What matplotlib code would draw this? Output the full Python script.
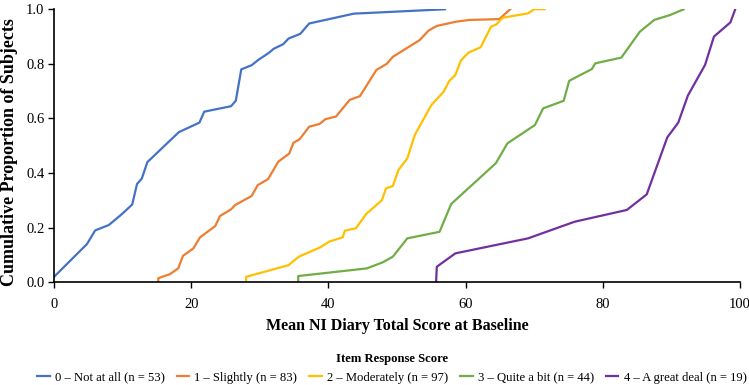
import matplotlib
matplotlib.use("Agg")
import matplotlib.pyplot as plt

plt.rcParams["font.family"] = ["Liberation Serif", "DejaVu Serif"]

# Curvas acumuladas (puntuacion media, proporcion acumulada)
score0_x = [0, 4.8, 6.0, 8.0, 9.9, 11.4, 12.1, 12.8, 13.6, 18.2, 21.2, 21.9, 25.8, 26.5,
            27.3, 28.8, 29.8, 31.3, 32.0, 33.4, 34.2, 35.9, 37.2, 43.7, 57.0]
score0_y = [0.02, 0.14, 0.19, 0.21, 0.25, 0.285, 0.36, 0.38, 0.44, 0.55, 0.585, 0.625, 0.645, 0.665,
            0.78, 0.795, 0.815, 0.84, 0.855, 0.872, 0.893, 0.91, 0.948, 0.984, 1.0]

score1_x = [15.2, 15.2, 16.9, 18.1, 18.8, 20.3, 21.3, 23.5, 24.2, 25.8, 26.4, 28.8, 29.7, 31.2,
            32.7, 34.3, 34.9, 35.8, 37.2, 38.7, 39.6, 41.1, 43.1, 44.6, 47.0, 48.5, 49.4,
            53.3, 54.6, 55.8, 58.7, 60.6, 64.9, 66.5]
score1_y = [0.002, 0.015, 0.03, 0.051, 0.097, 0.124, 0.165, 0.206, 0.243, 0.267, 0.283, 0.316, 0.356, 0.378,
            0.442, 0.472, 0.511, 0.524, 0.570, 0.580, 0.598, 0.607, 0.668, 0.682, 0.778, 0.80, 0.826,
            0.887, 0.922, 0.939, 0.955, 0.961, 0.964, 1.0]

score2_x = [28.0, 28.0, 34.2, 35.7, 38.8, 40.1, 42.1, 42.4, 44.0, 45.5, 47.8, 48.4, 49.4, 50.2,
            51.5, 52.6, 55.0, 56.8, 57.6, 58.5, 59.3, 60.4, 62.2, 63.7, 64.5, 65.4, 69.1, 70.0, 71.5]
score2_y = [0.002, 0.02, 0.063, 0.094, 0.128, 0.149, 0.165, 0.189, 0.198, 0.25, 0.301, 0.344, 0.353, 0.411,
            0.454, 0.54, 0.649, 0.698, 0.737, 0.759, 0.812, 0.841, 0.861, 0.936, 0.945, 0.969, 0.985, 1.0, 1.0]

score3_x = [35.6, 35.6, 45.6, 47.9, 49.4, 51.5, 56.2, 57.9, 64.4, 66.1, 70.1, 71.3, 74.3, 75.1,
            78.4, 78.9, 82.7, 85.4, 87.5, 89.8, 91.8]
score3_y = [0.0, 0.023, 0.051, 0.073, 0.094, 0.161, 0.185, 0.287, 0.436, 0.509, 0.576, 0.637, 0.665, 0.738,
            0.781, 0.802, 0.823, 0.918, 0.961, 0.979, 1.0]

score4_x = [55.7, 55.8, 58.5, 69.1, 75.9, 83.5, 86.4, 89.4, 91.0, 92.4, 94.9, 96.2, 98.6, 99.3]
score4_y = [0.002, 0.057, 0.106, 0.161, 0.222, 0.265, 0.322, 0.531, 0.585, 0.684, 0.796, 0.90, 0.952, 1.0]

labels = ["0 \u2013 Not at all (n = 53)", "1 \u2013 Slightly (n = 83)", "2 \u2013 Moderately (n = 97)",
          "3 \u2013 Quite a bit (n = 44)", "4 \u2013 A great deal (n = 19)"]
colors = ["#4472C4", "#ED7D31", "#FFC000", "#70AD47", "#7030A0"]

series = [(score0_x, score0_y), (score1_x, score1_y), (score2_x, score2_y),
          (score3_x, score3_y), (score4_x, score4_y)]

fig = plt.figure(figsize=(7.49, 3.85), dpi=100)
ax = fig.add_axes([0.0721, 0.2667, 0.9159, 0.7092])

for (xs, ys), lab, col in zip(series, labels, colors):
    ax.plot(xs, ys, color=col, linewidth=1.6, label=lab)

ax.set_xlim(0, 100)
ax.set_ylim(0, 1.0)
ax.set_xticks([0, 20, 40, 60, 80, 100])
ax.set_yticks([0.0, 0.2, 0.4, 0.6, 0.8, 1.0])
ax.set_yticklabels(["0.0", "0.2", "0.4", "0.6", "0.8", "1.0"])
ax.tick_params(labelsize=10.5, length=4, width=1, pad=3)
ax.tick_params(axis="x", pad=7)
ax.spines["top"].set_visible(False)
ax.spines["right"].set_visible(False)
ax.spines["left"].set_linewidth(1.2)
ax.spines["bottom"].set_linewidth(1.2)
ax.set_xlabel("Mean NI Diary Total Score at Baseline", fontsize=11.5, fontweight="bold")
ax.xaxis.set_label_coords(0.5, -0.13)
ax.set_ylabel("Cumulative Proportion of Subjects", fontsize=13, fontweight="bold")
ax.yaxis.set_label_coords(-0.052, 0.477)

leg = fig.legend(loc="upper center", bbox_to_anchor=(0.523, 0.084), ncol=5, frameon=False,
                 fontsize=9.1, handlelength=1.0, columnspacing=0.95, handletextpad=0.4,
                 borderaxespad=0, borderpad=0, labelspacing=0.3,
                 title="Item Response Score", title_fontproperties={"weight": "bold", "size": 9.1})
leg._legend_box.sep = 5

fig.savefig("out.png", dpi=100)
